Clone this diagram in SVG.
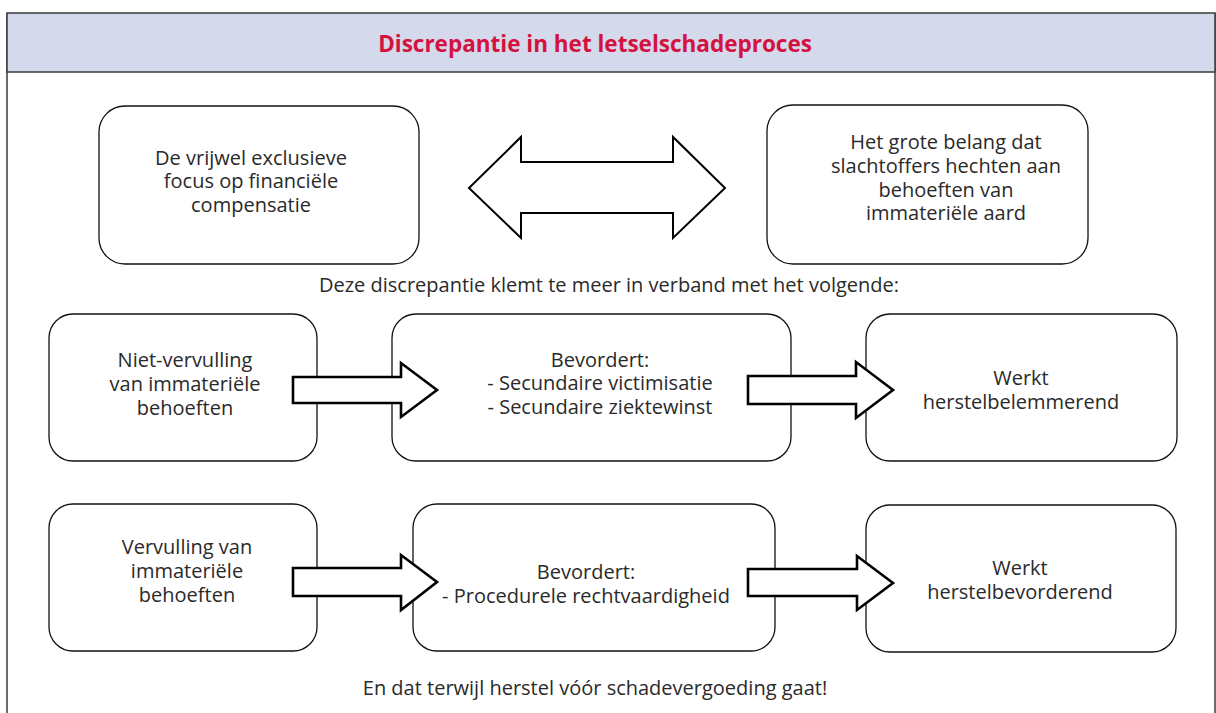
<svg xmlns="http://www.w3.org/2000/svg" width="1216" height="713" viewBox="0 0 1216 713">
<style>
.frame{fill:none;stroke:#3a3a3a;stroke-width:1.5}
.hdr{fill:#d4d9eb;stroke:#3a3a3a;stroke-width:1.5}
.title{font-family:"Open Sans","Liberation Sans",sans-serif;font-weight:bold;font-size:22.5px;fill:#d3123f;text-anchor:middle}
.box{fill:#fff;stroke:#111;stroke-width:1.3}
.t{font-family:"Open Sans","Liberation Sans",sans-serif;font-size:20px;fill:#2a2a2a;text-anchor:middle}
.arr{fill:#fff;stroke:#000;stroke-width:2.6;stroke-linejoin:miter}
.darr{fill:#fff;stroke:#000;stroke-width:2}
</style>
<rect x="0" y="0" width="1216" height="713" fill="#fff"/>
<g id="frame">
<line class="frame" x1="7" y1="13" x2="7" y2="713"/>
<line class="frame" x1="1215" y1="13" x2="1215" y2="713"/>
<rect class="hdr" x="7" y="13" width="1208" height="59"/>
<text class="title" x="595" y="52">Discrepantie in het letselschadeproces</text>
</g>
<g id="node-focus">
<rect class="box" x="99" y="106" width="320" height="158" rx="26"/>
<text class="t" x="251" y="165">De vrijwel exclusieve</text>
<text class="t" x="251" y="188">focus op financiële</text>
<text class="t" x="251" y="212">compensatie</text>
</g>
<g id="node-belang">
<rect class="box" x="767" y="105" width="321" height="159" rx="26"/>
<text class="t" x="946" y="149">Het grote belang dat</text>
<text class="t" x="946" y="173">slachtoffers hechten aan</text>
<text class="t" x="946" y="197">behoeften van</text>
<text class="t" x="946" y="220">immateriële aard</text>
</g>
<g id="label-deze">
<text class="t" x="609" y="292">Deze discrepantie klemt te meer in verband met het volgende:</text>
</g>
<g id="node-niet-vervulling">
<rect class="box" x="49" y="314" width="268" height="147" rx="24"/>
<text class="t" x="185" y="367">Niet-vervulling</text>
<text class="t" x="185" y="391">van immateriële</text>
<text class="t" x="185" y="415">behoeften</text>
</g>
<g id="node-bevordert1">
<rect class="box" x="392" y="314" width="399" height="147" rx="24"/>
<text class="t" x="600" y="367">Bevordert:</text>
<text class="t" x="600" y="390">- Secundaire victimisatie</text>
<text class="t" x="600" y="414">- Secundaire ziektewinst</text>
</g>
<g id="node-belemmerend">
<rect class="box" x="866" y="314" width="311" height="147" rx="24"/>
<text class="t" x="1021" y="385">Werkt</text>
<text class="t" x="1021" y="409">herstelbelemmerend</text>
</g>
<g id="node-vervulling">
<rect class="box" x="49" y="504" width="268" height="147" rx="24"/>
<text class="t" x="187" y="554">Vervulling van</text>
<text class="t" x="187" y="578">immateriële</text>
<text class="t" x="187" y="602">behoeften</text>
</g>
<g id="node-bevordert2">
<rect class="box" x="413" y="504" width="362" height="147" rx="24"/>
<text class="t" x="586" y="579">Bevordert:</text>
<text class="t" x="586" y="603">- Procedurele rechtvaardigheid</text>
</g>
<g id="node-bevorderend">
<rect class="box" x="866" y="505" width="310" height="147" rx="24"/>
<text class="t" x="1020" y="575">Werkt</text>
<text class="t" x="1020" y="599">herstelbevorderend</text>
</g>
<g id="label-en-dat">
<text class="t" x="595" y="695">En dat terwijl herstel vóór schadevergoeding gaat!</text>
</g>
<g id="connectors">
<polygon class="darr" points="469,188 521,137 521,162 673,162 673,137 725,188 673,238 673,213 521,213 521,238"/>
<polygon class="arr" points="293,377 401,377 401,363 437,390 401,417 401,403 293,403"/>
<polygon class="arr" points="748,376 856,376 856,362 893,390 856,418 856,404 748,404"/>
<polygon class="arr" points="293,568 401,568 401,555 437,582 401,610 401,596 293,596"/>
<polygon class="arr" points="748,569 857,569 857,556 893,583 857,610 857,596 748,596"/>
</g>
</svg>
